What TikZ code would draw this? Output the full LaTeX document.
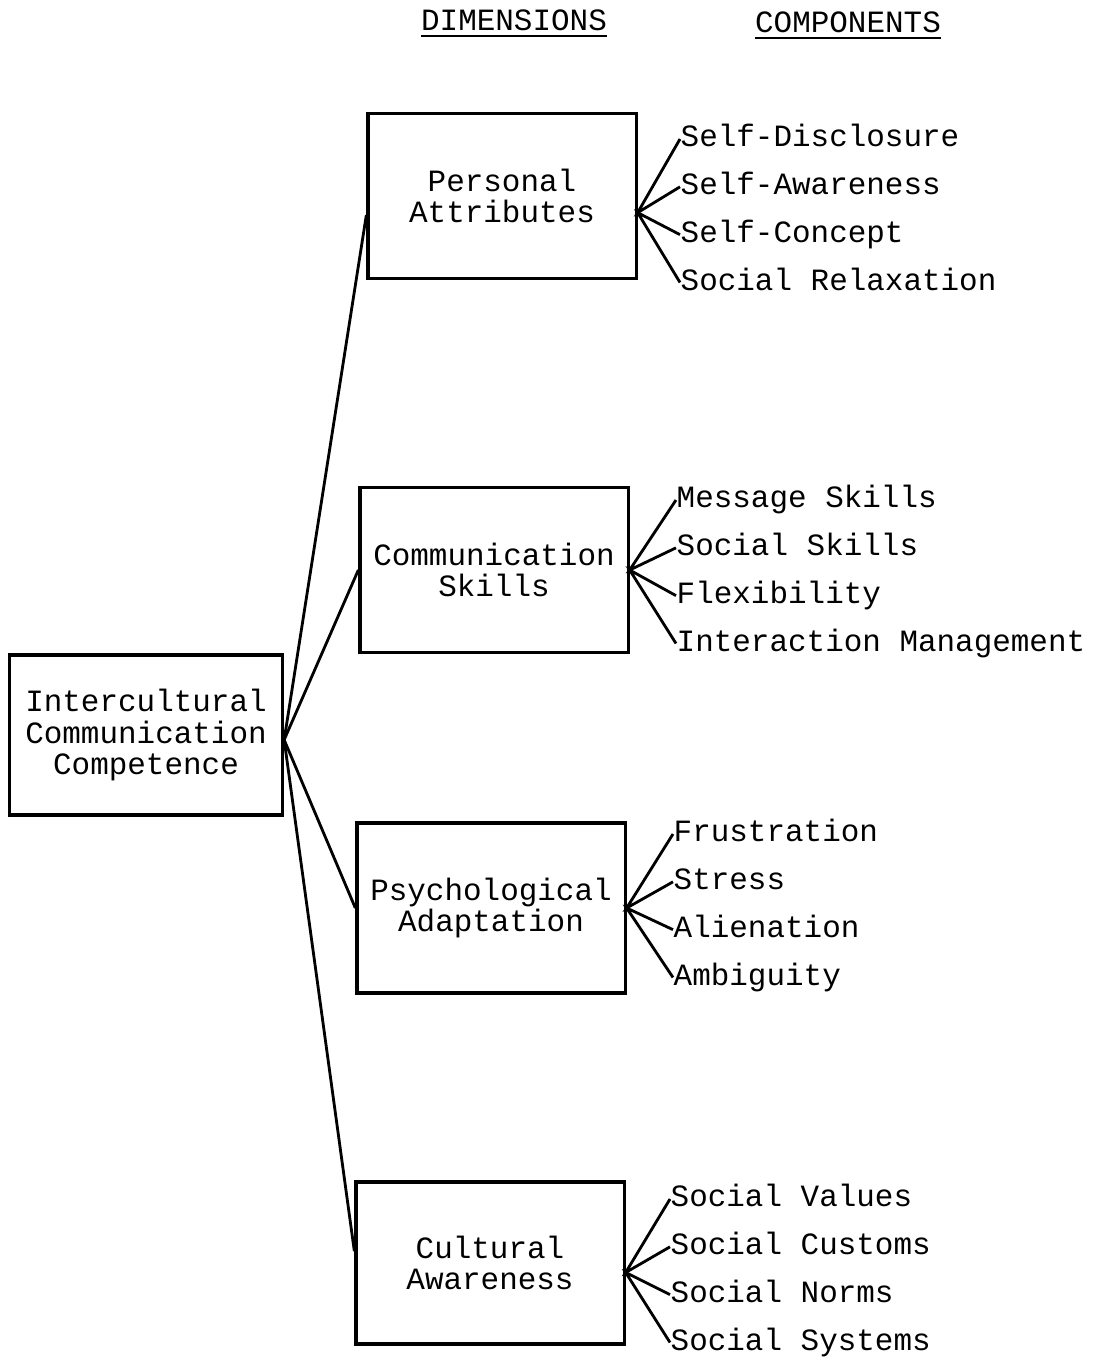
\documentclass[tikz,border=0pt]{standalone}
\usepackage{fontspec}
\setmonofont{Liberation Mono}
\usetikzlibrary{positioning}
\newcommand\twfont{\ttfamily\fontsize{8.8}{9}\selectfont}
\newcommand\wsp{\hspace*{0.6em}}

\begin{document}
\begin{tikzpicture}[x=0.01cm, y=-0.01cm, node distance=5.6pt,
		every node/.style={font=\twfont},
		dimbox/.style={draw, line width=0.9pt, align=center, minimum width=2.68cm, minimum height=1.65cm},
		comp/.style={inner sep=0pt, text width=4.1cm, align=left, text height=6pt, text depth=1.6pt},
		link/.style={line width=0.8pt}]
		\useasboundingbox (0,0) rectangle (1093,1360);
		
		% headings
		\node (dimhead)  at (514,24) {\underline{DIMENSIONS}};
		\node (comphead) at (848,26) {\underline{COMPONENTS}};
		
		% boxes
		\node[dimbox, minimum width=2.73cm, minimum height=1.6cm] (icc) at (146,735) {Intercultural\\Communication\\Competence};
		\node[dimbox] (pa)  at (502,196)  {Personal\\Attributes};
		\node[dimbox] (cs)  at (494,570)  {Communication\\Skills};
		\node[dimbox, minimum height=1.7cm] (psy) at (491,908) {Psychological\\Adaptation};
		\node[dimbox, minimum height=1.62cm] (ca)  at (490,1263) {Cultural\\Awareness};
		
		% components
		\node[comp, anchor=west]  (sd)  at (680,139) {Self-Disclosure};
		\node[comp, below=of sd]  (saw) {Self-Awareness};
		\node[comp, below=of saw] (sc)  {Self-Concept};
		\node[comp, below=of sc]  (sr)  {Social\wsp Relaxation};
		
		\node[comp, anchor=west]  (ms)  at (676,500) {Message\wsp Skills};
		\node[comp, below=of ms]  (ss)  {Social\wsp Skills};
		\node[comp, below=of ss]  (fl)  {Flexibility};
		\node[comp, below=of fl]  (im)  {Interaction\wsp Management};
		
		\node[comp, anchor=west]  (fr)  at (673,834) {Frustration};
		\node[comp, below=of fr]  (st)  {Stress};
		\node[comp, below=of st]  (al)  {Alienation};
		\node[comp, below=of al]  (am)  {Ambiguity};
		
		\node[comp, anchor=west]  (sv)  at (670,1199) {Social\wsp Values};
		\node[comp, below=of sv]  (scu) {Social\wsp Customs};
		\node[comp, below=of scu] (sn)  {Social\wsp Norms};
		\node[comp, below=of sn]  (ssy) {Social\wsp Systems};
		
		\draw[link] (icc.-2) -- (pa.188);
		\draw[link] (icc.-2) -- (cs.west);
		\draw[link] (icc.-2) -- (psy.west);
		\draw[link] (icc.-2) -- (ca.175);
		
		\draw[link] (sd.west) -- (pa.-7) -- (saw.west);
		\draw[link] (sc.west) -- (pa.-7) -- (sr.west);
		\draw[link] (ms.west) -- (cs.east) -- (ss.west);
		\draw[link] (fl.west) -- (cs.east) -- (im.west);
		\draw[link] (fr.west) -- (psy.east) -- (st.west);
		\draw[link] (al.west) -- (psy.east) -- (am.west);
		\draw[link] (sv.west) -- (ca.-4) -- (scu.west);
		\draw[link] (sn.west) -- (ca.-4) -- (ssy.west);
	\end{tikzpicture}
\end{document}
